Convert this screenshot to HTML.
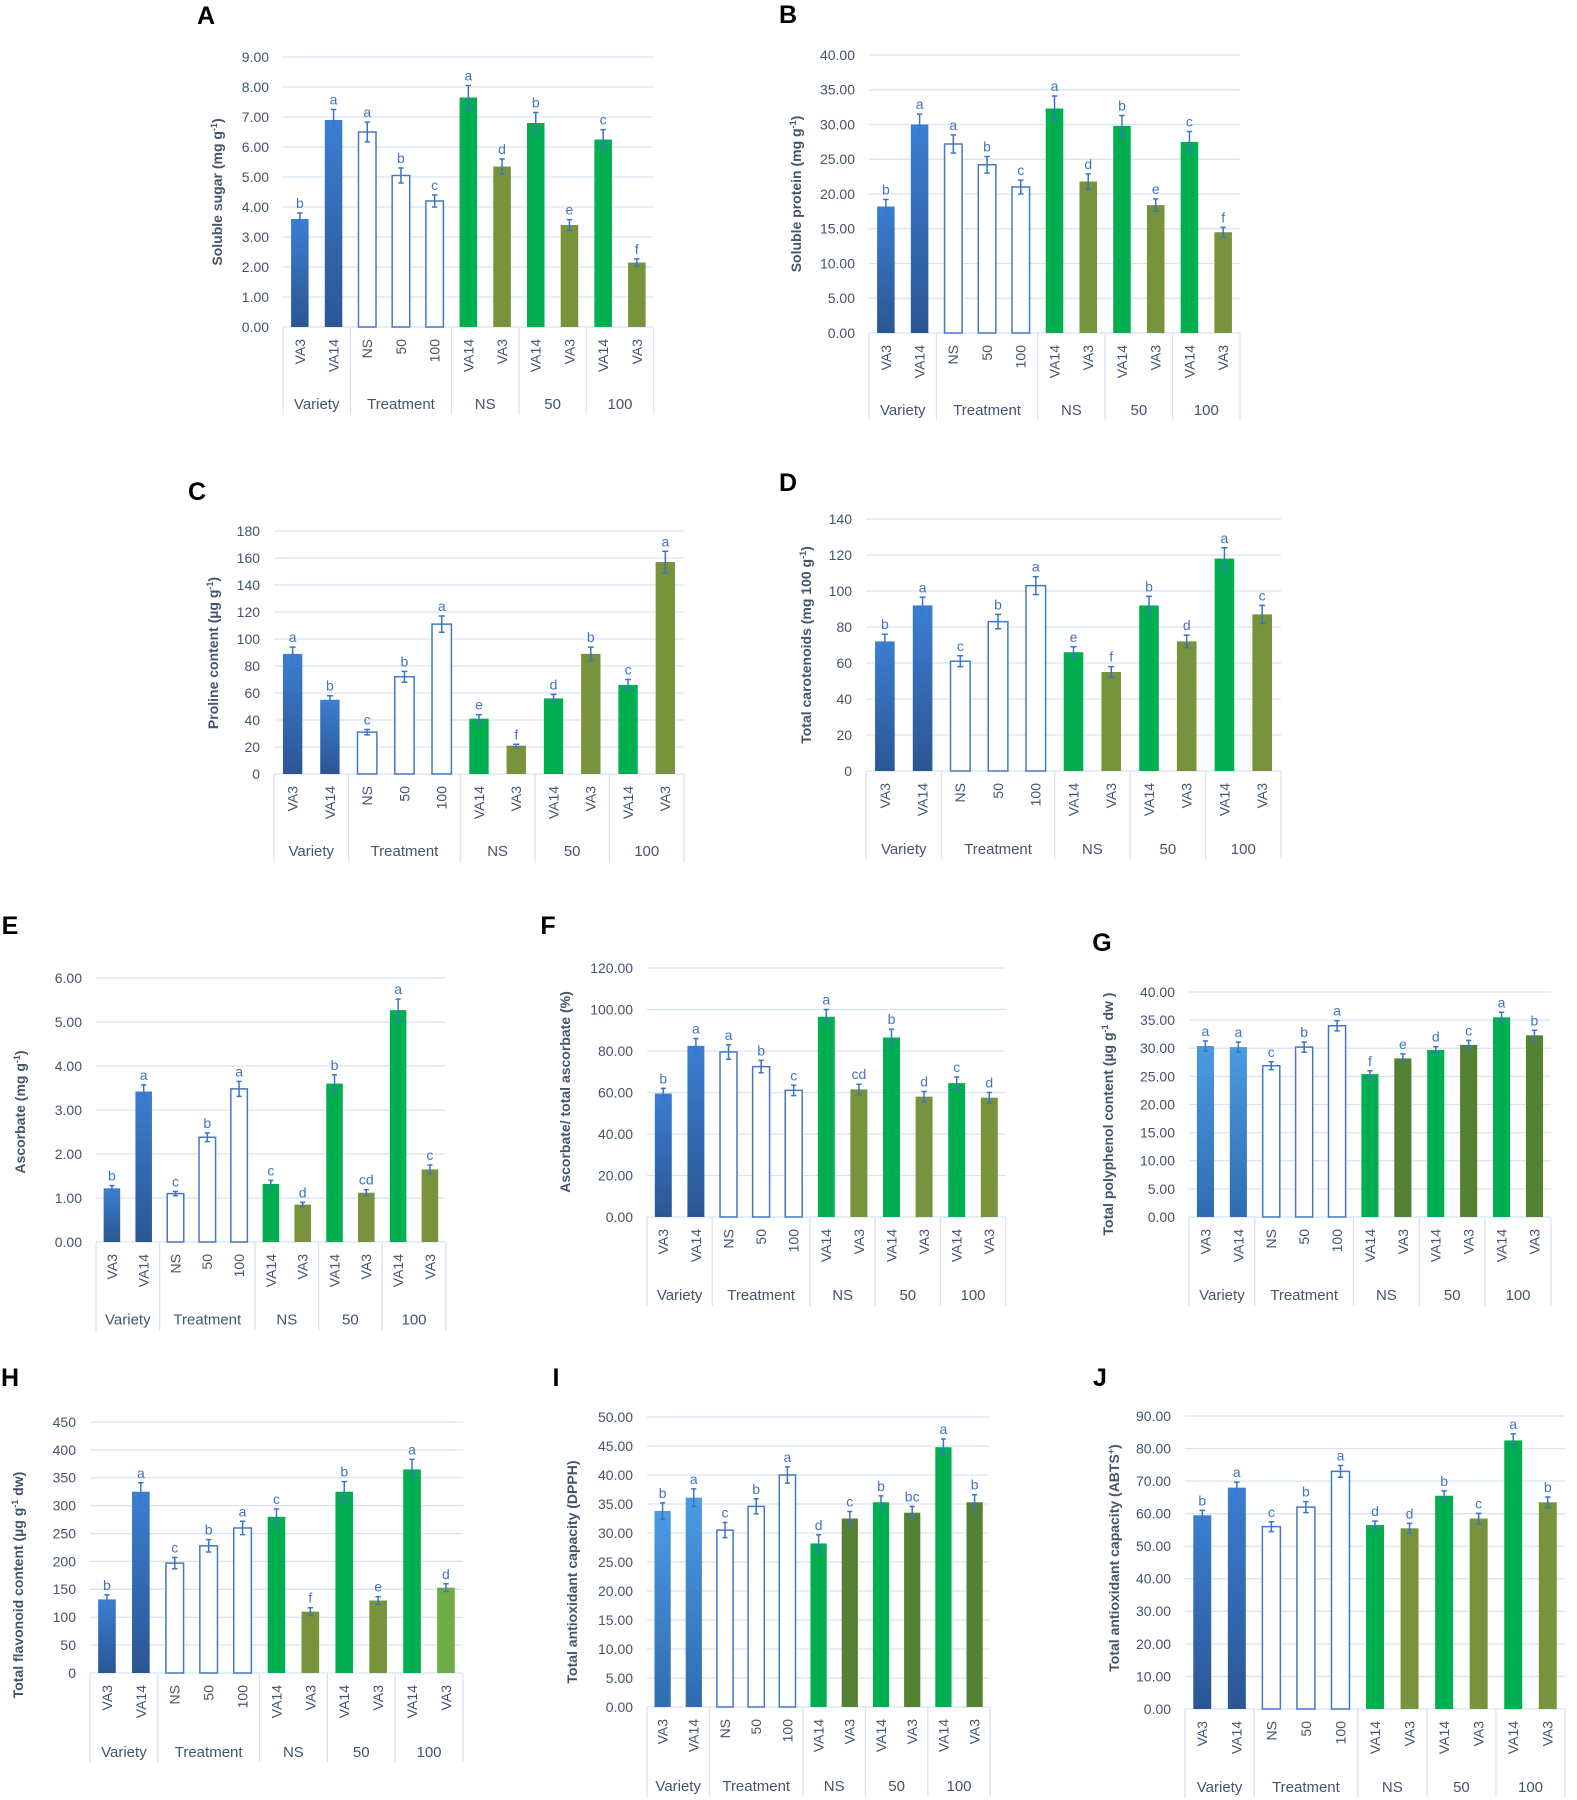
<!DOCTYPE html>
<html><head><meta charset="utf-8"><style>
body{margin:0;background:#fff}
svg{display:block}
.s rect,.s path{vector-effect:non-scaling-stroke}
.g{stroke:#d9e3f2;stroke-width:1.3;fill:none}
.w{fill:#fff;stroke:#4478c4;stroke-width:1.5}
.e{stroke:#3d74c6;stroke-width:1.5;fill:none}
text{font-family:"Liberation Sans",sans-serif;fill:#44546a}
.t{font-size:14px;text-anchor:end}
.l{font-size:14px;text-anchor:middle;fill:#4472c4}
.c{font-size:14px;text-anchor:end}
.gl{font-size:15px;text-anchor:middle}
.yl{font-size:14px;font-weight:bold;text-anchor:middle}
.T{font-size:25px;font-weight:bold;fill:#000;text-anchor:middle}
</style></head><body>
<svg width="1577" height="1800" viewBox="0 0 1577 1800" xmlns="http://www.w3.org/2000/svg">
<defs>
<linearGradient id="gv" x1="0" y1="0" x2="0" y2="1"><stop offset="0" stop-color="#2b5694"/><stop offset="1" stop-color="#3b7ed2"/></linearGradient>
<linearGradient id="gb" x1="0" y1="0" x2="0" y2="1"><stop offset="0" stop-color="#2f6cb0"/><stop offset="1" stop-color="#4a9be3"/></linearGradient>
</defs>
<rect width="1577" height="1800" fill="#fff"/>

<!-- A -->
<text class="T" x="206" y="15" dy=".35em">A</text>
<text class="yl" transform="translate(217,192) rotate(-90)" dy=".35em">Soluble sugar (mg g<tspan font-size="9" dy="-5">-1</tspan><tspan dy="5">)</tspan></text>
<g transform="translate(283,327)"><g class="s" transform="scale(33.7,-30)">
<path class="g" d="M0 0H11M0 1H11M0 2H11M0 3H11M0 4H11M0 5H11M0 6H11M0 7H11M0 8H11M0 9H11"/>
<path class="g" d="M0 0V-2.93M2 0V-2.93M5 0V-2.93M7 0V-2.93M9 0V-2.93M11 0V-2.93"/>
<rect x=".24" width=".52" height="3.6" fill="url(#gv)"/><rect x="1.24" width=".52" height="6.9" fill="url(#gv)"/>
<rect class="w" x="2.24" width=".52" height="6.5"/><rect class="w" x="3.24" width=".52" height="5.05"/><rect class="w" x="4.24" width=".52" height="4.2"/>
<rect x="5.24" width=".52" height="7.65" fill="#00b050"/><rect x="6.24" width=".52" height="5.35" fill="#77933c"/>
<rect x="7.24" width=".52" height="6.8" fill="#00b050"/><rect x="8.24" width=".52" height="3.4" fill="#77933c"/>
<rect x="9.24" width=".52" height="6.25" fill="#00b050"/><rect x="10.24" width=".52" height="2.15" fill="#77933c"/>
<path class="e" d="M.5 3.4V3.8M.42 3.8h.16M.42 3.4h.16M1.5 6.55V7.25M1.42 7.25h.16M1.42 6.55h.16M2.5 6.17V6.83M2.42 6.83h.16M2.42 6.17h.16M3.5 4.8V5.3M3.42 5.3h.16M3.42 4.8h.16M4.5 4V4.4M4.42 4.4h.16M4.42 4h.16M5.5 7.25V8.05M5.42 8.05h.16M5.42 7.25h.16M6.5 5.1V5.6M6.42 5.6h.16M6.42 5.1h.16M7.5 6.45V7.15M7.42 7.15h.16M7.42 6.45h.16M8.5 3.22V3.58M8.42 3.58h.16M8.42 3.22h.16M9.5 5.92V6.58M9.42 6.58h.16M9.42 5.92h.16M10.5 2.03V2.27M10.42 2.27h.16M10.42 2.03h.16"/>
<text class="l" transform="translate(.5,3.8) scale(.02967,-.03333)" y="-5">b</text>
<text class="l" transform="translate(1.5,7.25) scale(.02967,-.03333)" y="-5">a</text>
<text class="l" transform="translate(2.5,6.83) scale(.02967,-.03333)" y="-5">a</text>
<text class="l" transform="translate(3.5,5.3) scale(.02967,-.03333)" y="-5">b</text>
<text class="l" transform="translate(4.5,4.4) scale(.02967,-.03333)" y="-5">c</text>
<text class="l" transform="translate(5.5,8.05) scale(.02967,-.03333)" y="-5">a</text>
<text class="l" transform="translate(6.5,5.6) scale(.02967,-.03333)" y="-5">d</text>
<text class="l" transform="translate(7.5,7.15) scale(.02967,-.03333)" y="-5">b</text>
<text class="l" transform="translate(8.5,3.58) scale(.02967,-.03333)" y="-5">e</text>
<text class="l" transform="translate(9.5,6.58) scale(.02967,-.03333)" y="-5">c</text>
<text class="l" transform="translate(10.5,2.27) scale(.02967,-.03333)" y="-5">f</text>
<text class="t" transform="translate(0,0) scale(.02967,-.03333)" x="-14" dy=".35em">0.00</text>
<text class="t" transform="translate(0,1) scale(.02967,-.03333)" x="-14" dy=".35em">1.00</text>
<text class="t" transform="translate(0,2) scale(.02967,-.03333)" x="-14" dy=".35em">2.00</text>
<text class="t" transform="translate(0,3) scale(.02967,-.03333)" x="-14" dy=".35em">3.00</text>
<text class="t" transform="translate(0,4) scale(.02967,-.03333)" x="-14" dy=".35em">4.00</text>
<text class="t" transform="translate(0,5) scale(.02967,-.03333)" x="-14" dy=".35em">5.00</text>
<text class="t" transform="translate(0,6) scale(.02967,-.03333)" x="-14" dy=".35em">6.00</text>
<text class="t" transform="translate(0,7) scale(.02967,-.03333)" x="-14" dy=".35em">7.00</text>
<text class="t" transform="translate(0,8) scale(.02967,-.03333)" x="-14" dy=".35em">8.00</text>
<text class="t" transform="translate(0,9) scale(.02967,-.03333)" x="-14" dy=".35em">9.00</text>
<text class="c" transform="translate(.5,0) scale(.02967,-.03333) translate(0,12) rotate(-90)" dy=".35em">VA3</text>
<text class="c" transform="translate(1.5,0) scale(.02967,-.03333) translate(0,12) rotate(-90)" dy=".35em">VA14</text>
<text class="c" transform="translate(2.5,0) scale(.02967,-.03333) translate(0,12) rotate(-90)" dy=".35em">NS</text>
<text class="c" transform="translate(3.5,0) scale(.02967,-.03333) translate(0,12) rotate(-90)" dy=".35em">50</text>
<text class="c" transform="translate(4.5,0) scale(.02967,-.03333) translate(0,12) rotate(-90)" dy=".35em">100</text>
<text class="c" transform="translate(5.5,0) scale(.02967,-.03333) translate(0,12) rotate(-90)" dy=".35em">VA14</text>
<text class="c" transform="translate(6.5,0) scale(.02967,-.03333) translate(0,12) rotate(-90)" dy=".35em">VA3</text>
<text class="c" transform="translate(7.5,0) scale(.02967,-.03333) translate(0,12) rotate(-90)" dy=".35em">VA14</text>
<text class="c" transform="translate(8.5,0) scale(.02967,-.03333) translate(0,12) rotate(-90)" dy=".35em">VA3</text>
<text class="c" transform="translate(9.5,0) scale(.02967,-.03333) translate(0,12) rotate(-90)" dy=".35em">VA14</text>
<text class="c" transform="translate(10.5,0) scale(.02967,-.03333) translate(0,12) rotate(-90)" dy=".35em">VA3</text>
<text class="gl" transform="translate(1,0) scale(.02967,-.03333)" y="77" dy=".35em">Variety</text>
<text class="gl" transform="translate(3.5,0) scale(.02967,-.03333)" y="77" dy=".35em">Treatment</text>
<text class="gl" transform="translate(6,0) scale(.02967,-.03333)" y="77" dy=".35em">NS</text>
<text class="gl" transform="translate(8,0) scale(.02967,-.03333)" y="77" dy=".35em">50</text>
<text class="gl" transform="translate(10,0) scale(.02967,-.03333)" y="77" dy=".35em">100</text>
</g></g>

<!-- B -->
<text class="T" x="788" y="14" dy=".35em">B</text>
<text class="yl" transform="translate(796,194) rotate(-90)" dy=".35em">Soluble protein (mg g<tspan font-size="9" dy="-5">-1</tspan><tspan dy="5">)</tspan></text>
<g transform="translate(869,333)"><g class="s" transform="scale(33.73,-6.95)">
<path class="g" d="M0 0H11M0 5H11M0 10H11M0 15H11M0 20H11M0 25H11M0 30H11M0 35H11M0 40H11"/>
<path class="g" d="M0 0V-12.5M2 0V-12.5M5 0V-12.5M7 0V-12.5M9 0V-12.5M11 0V-12.5"/>
<rect x=".24" width=".52" height="18.2" fill="url(#gv)"/><rect x="1.24" width=".52" height="30" fill="url(#gv)"/>
<rect class="w" x="2.24" width=".52" height="27.2"/><rect class="w" x="3.24" width=".52" height="24.2"/><rect class="w" x="4.24" width=".52" height="21"/>
<rect x="5.24" width=".52" height="32.3" fill="#00b050"/><rect x="6.24" width=".52" height="21.8" fill="#77933c"/>
<rect x="7.24" width=".52" height="29.8" fill="#00b050"/><rect x="8.24" width=".52" height="18.4" fill="#77933c"/>
<rect x="9.24" width=".52" height="27.5" fill="#00b050"/><rect x="10.24" width=".52" height="14.5" fill="#77933c"/>
<path class="e" d="M.5 17.2V19.2M.42 19.2h.16M.42 17.2h.16M1.5 28.5V31.5M1.42 31.5h.16M1.42 28.5h.16M2.5 25.9V28.5M2.42 28.5h.16M2.42 25.9h.16M3.5 23V25.4M3.42 25.4h.16M3.42 23h.16M4.5 20V22M4.42 22h.16M4.42 20h.16M5.5 30.5V34.1M5.42 34.1h.16M5.42 30.5h.16M6.5 20.7V22.9M6.42 22.9h.16M6.42 20.7h.16M7.5 28.3V31.3M7.42 31.3h.16M7.42 28.3h.16M8.5 17.5V19.3M8.42 19.3h.16M8.42 17.5h.16M9.5 26V29M9.42 29h.16M9.42 26h.16M10.5 13.8V15.2M10.42 15.2h.16M10.42 13.8h.16"/>
<text class="l" transform="translate(.5,19.2) scale(.02965,-.14388)" y="-5">b</text>
<text class="l" transform="translate(1.5,31.5) scale(.02965,-.14388)" y="-5">a</text>
<text class="l" transform="translate(2.5,28.5) scale(.02965,-.14388)" y="-5">a</text>
<text class="l" transform="translate(3.5,25.4) scale(.02965,-.14388)" y="-5">b</text>
<text class="l" transform="translate(4.5,22) scale(.02965,-.14388)" y="-5">c</text>
<text class="l" transform="translate(5.5,34.1) scale(.02965,-.14388)" y="-5">a</text>
<text class="l" transform="translate(6.5,22.9) scale(.02965,-.14388)" y="-5">d</text>
<text class="l" transform="translate(7.5,31.3) scale(.02965,-.14388)" y="-5">b</text>
<text class="l" transform="translate(8.5,19.3) scale(.02965,-.14388)" y="-5">e</text>
<text class="l" transform="translate(9.5,29) scale(.02965,-.14388)" y="-5">c</text>
<text class="l" transform="translate(10.5,15.2) scale(.02965,-.14388)" y="-5">f</text>
<text class="t" transform="translate(0,0) scale(.02965,-.14388)" x="-14" dy=".35em">0.00</text>
<text class="t" transform="translate(0,5) scale(.02965,-.14388)" x="-14" dy=".35em">5.00</text>
<text class="t" transform="translate(0,10) scale(.02965,-.14388)" x="-14" dy=".35em">10.00</text>
<text class="t" transform="translate(0,15) scale(.02965,-.14388)" x="-14" dy=".35em">15.00</text>
<text class="t" transform="translate(0,20) scale(.02965,-.14388)" x="-14" dy=".35em">20.00</text>
<text class="t" transform="translate(0,25) scale(.02965,-.14388)" x="-14" dy=".35em">25.00</text>
<text class="t" transform="translate(0,30) scale(.02965,-.14388)" x="-14" dy=".35em">30.00</text>
<text class="t" transform="translate(0,35) scale(.02965,-.14388)" x="-14" dy=".35em">35.00</text>
<text class="t" transform="translate(0,40) scale(.02965,-.14388)" x="-14" dy=".35em">40.00</text>
<text class="c" transform="translate(.5,0) scale(.02965,-.14388) translate(0,12) rotate(-90)" dy=".35em">VA3</text>
<text class="c" transform="translate(1.5,0) scale(.02965,-.14388) translate(0,12) rotate(-90)" dy=".35em">VA14</text>
<text class="c" transform="translate(2.5,0) scale(.02965,-.14388) translate(0,12) rotate(-90)" dy=".35em">NS</text>
<text class="c" transform="translate(3.5,0) scale(.02965,-.14388) translate(0,12) rotate(-90)" dy=".35em">50</text>
<text class="c" transform="translate(4.5,0) scale(.02965,-.14388) translate(0,12) rotate(-90)" dy=".35em">100</text>
<text class="c" transform="translate(5.5,0) scale(.02965,-.14388) translate(0,12) rotate(-90)" dy=".35em">VA14</text>
<text class="c" transform="translate(6.5,0) scale(.02965,-.14388) translate(0,12) rotate(-90)" dy=".35em">VA3</text>
<text class="c" transform="translate(7.5,0) scale(.02965,-.14388) translate(0,12) rotate(-90)" dy=".35em">VA14</text>
<text class="c" transform="translate(8.5,0) scale(.02965,-.14388) translate(0,12) rotate(-90)" dy=".35em">VA3</text>
<text class="c" transform="translate(9.5,0) scale(.02965,-.14388) translate(0,12) rotate(-90)" dy=".35em">VA14</text>
<text class="c" transform="translate(10.5,0) scale(.02965,-.14388) translate(0,12) rotate(-90)" dy=".35em">VA3</text>
<text class="gl" transform="translate(1,0) scale(.02965,-.14388)" y="77" dy=".35em">Variety</text>
<text class="gl" transform="translate(3.5,0) scale(.02965,-.14388)" y="77" dy=".35em">Treatment</text>
<text class="gl" transform="translate(6,0) scale(.02965,-.14388)" y="77" dy=".35em">NS</text>
<text class="gl" transform="translate(8,0) scale(.02965,-.14388)" y="77" dy=".35em">50</text>
<text class="gl" transform="translate(10,0) scale(.02965,-.14388)" y="77" dy=".35em">100</text>
</g></g>

<!-- C -->
<text class="T" x="197" y="491" dy=".35em">C</text>
<text class="yl" transform="translate(213,653) rotate(-90)" dy=".35em">Proline content (µg g<tspan font-size="9" dy="-5">-1</tspan><tspan dy="5">)</tspan></text>
<g transform="translate(274,774)"><g class="s" transform="scale(37.27,-1.35)">
<path class="g" d="M0 0H11M0 20H11M0 40H11M0 60H11M0 80H11M0 100H11M0 120H11M0 140H11M0 160H11M0 180H11"/>
<path class="g" d="M0 0V-65.9M2 0V-65.9M5 0V-65.9M7 0V-65.9M9 0V-65.9M11 0V-65.9"/>
<rect x=".24" width=".52" height="89" fill="url(#gv)"/><rect x="1.24" width=".52" height="55" fill="url(#gv)"/>
<rect class="w" x="2.24" width=".52" height="31"/><rect class="w" x="3.24" width=".52" height="72"/><rect class="w" x="4.24" width=".52" height="111"/>
<rect x="5.24" width=".52" height="41" fill="#00b050"/><rect x="6.24" width=".52" height="21" fill="#77933c"/>
<rect x="7.24" width=".52" height="56" fill="#00b050"/><rect x="8.24" width=".52" height="89" fill="#77933c"/>
<rect x="9.24" width=".52" height="66" fill="#00b050"/><rect x="10.24" width=".52" height="157" fill="#77933c"/>
<path class="e" d="M.5 84V94M.42 94h.16M.42 84h.16M1.5 52V58M1.42 58h.16M1.42 52h.16M2.5 29V33M2.42 33h.16M2.42 29h.16M3.5 68V76M3.42 76h.16M3.42 68h.16M4.5 105V117M4.42 117h.16M4.42 105h.16M5.5 38V44M5.42 44h.16M5.42 38h.16M6.5 20V22M6.42 22h.16M6.42 20h.16M7.5 53V59M7.42 59h.16M7.42 53h.16M8.5 84V94M8.42 94h.16M8.42 84h.16M9.5 62V70M9.42 70h.16M9.42 62h.16M10.5 149V165M10.42 165h.16M10.42 149h.16"/>
<text class="l" transform="translate(.5,94) scale(.02683,-.74074)" y="-5">a</text>
<text class="l" transform="translate(1.5,58) scale(.02683,-.74074)" y="-5">b</text>
<text class="l" transform="translate(2.5,33) scale(.02683,-.74074)" y="-5">c</text>
<text class="l" transform="translate(3.5,76) scale(.02683,-.74074)" y="-5">b</text>
<text class="l" transform="translate(4.5,117) scale(.02683,-.74074)" y="-5">a</text>
<text class="l" transform="translate(5.5,44) scale(.02683,-.74074)" y="-5">e</text>
<text class="l" transform="translate(6.5,22) scale(.02683,-.74074)" y="-5">f</text>
<text class="l" transform="translate(7.5,59) scale(.02683,-.74074)" y="-5">d</text>
<text class="l" transform="translate(8.5,94) scale(.02683,-.74074)" y="-5">b</text>
<text class="l" transform="translate(9.5,70) scale(.02683,-.74074)" y="-5">c</text>
<text class="l" transform="translate(10.5,165) scale(.02683,-.74074)" y="-5">a</text>
<text class="t" transform="translate(0,0) scale(.02683,-.74074)" x="-14" dy=".35em">0</text>
<text class="t" transform="translate(0,20) scale(.02683,-.74074)" x="-14" dy=".35em">20</text>
<text class="t" transform="translate(0,40) scale(.02683,-.74074)" x="-14" dy=".35em">40</text>
<text class="t" transform="translate(0,60) scale(.02683,-.74074)" x="-14" dy=".35em">60</text>
<text class="t" transform="translate(0,80) scale(.02683,-.74074)" x="-14" dy=".35em">80</text>
<text class="t" transform="translate(0,100) scale(.02683,-.74074)" x="-14" dy=".35em">100</text>
<text class="t" transform="translate(0,120) scale(.02683,-.74074)" x="-14" dy=".35em">120</text>
<text class="t" transform="translate(0,140) scale(.02683,-.74074)" x="-14" dy=".35em">140</text>
<text class="t" transform="translate(0,160) scale(.02683,-.74074)" x="-14" dy=".35em">160</text>
<text class="t" transform="translate(0,180) scale(.02683,-.74074)" x="-14" dy=".35em">180</text>
<text class="c" transform="translate(.5,0) scale(.02683,-.74074) translate(0,12) rotate(-90)" dy=".35em">VA3</text>
<text class="c" transform="translate(1.5,0) scale(.02683,-.74074) translate(0,12) rotate(-90)" dy=".35em">VA14</text>
<text class="c" transform="translate(2.5,0) scale(.02683,-.74074) translate(0,12) rotate(-90)" dy=".35em">NS</text>
<text class="c" transform="translate(3.5,0) scale(.02683,-.74074) translate(0,12) rotate(-90)" dy=".35em">50</text>
<text class="c" transform="translate(4.5,0) scale(.02683,-.74074) translate(0,12) rotate(-90)" dy=".35em">100</text>
<text class="c" transform="translate(5.5,0) scale(.02683,-.74074) translate(0,12) rotate(-90)" dy=".35em">VA14</text>
<text class="c" transform="translate(6.5,0) scale(.02683,-.74074) translate(0,12) rotate(-90)" dy=".35em">VA3</text>
<text class="c" transform="translate(7.5,0) scale(.02683,-.74074) translate(0,12) rotate(-90)" dy=".35em">VA14</text>
<text class="c" transform="translate(8.5,0) scale(.02683,-.74074) translate(0,12) rotate(-90)" dy=".35em">VA3</text>
<text class="c" transform="translate(9.5,0) scale(.02683,-.74074) translate(0,12) rotate(-90)" dy=".35em">VA14</text>
<text class="c" transform="translate(10.5,0) scale(.02683,-.74074) translate(0,12) rotate(-90)" dy=".35em">VA3</text>
<text class="gl" transform="translate(1,0) scale(.02683,-.74074)" y="77" dy=".35em">Variety</text>
<text class="gl" transform="translate(3.5,0) scale(.02683,-.74074)" y="77" dy=".35em">Treatment</text>
<text class="gl" transform="translate(6,0) scale(.02683,-.74074)" y="77" dy=".35em">NS</text>
<text class="gl" transform="translate(8,0) scale(.02683,-.74074)" y="77" dy=".35em">50</text>
<text class="gl" transform="translate(10,0) scale(.02683,-.74074)" y="77" dy=".35em">100</text>
</g></g>

<!-- D -->
<text class="T" x="788" y="482" dy=".35em">D</text>
<text class="yl" transform="translate(806,645) rotate(-90)" dy=".35em">Total carotenoids (mg 100 g<tspan font-size="9" dy="-5">-1</tspan><tspan dy="5">)</tspan></text>
<g transform="translate(866,771)"><g class="s" transform="scale(37.73,-1.8)">
<path class="g" d="M0 0H11M0 20H11M0 40H11M0 60H11M0 80H11M0 100H11M0 120H11M0 140H11"/>
<path class="g" d="M0 0V-49M2 0V-49M5 0V-49M7 0V-49M9 0V-49M11 0V-49"/>
<rect x=".24" width=".52" height="72" fill="url(#gv)"/><rect x="1.24" width=".52" height="92" fill="url(#gv)"/>
<rect class="w" x="2.24" width=".52" height="61"/><rect class="w" x="3.24" width=".52" height="83"/><rect class="w" x="4.24" width=".52" height="103"/>
<rect x="5.24" width=".52" height="66" fill="#00b050"/><rect x="6.24" width=".52" height="55" fill="#77933c"/>
<rect x="7.24" width=".52" height="92" fill="#00b050"/><rect x="8.24" width=".52" height="72" fill="#77933c"/>
<rect x="9.24" width=".52" height="118" fill="#00b050"/><rect x="10.24" width=".52" height="87" fill="#77933c"/>
<path class="e" d="M.5 68V76M.42 76h.16M.42 68h.16M1.5 87.5V96.5M1.42 96.5h.16M1.42 87.5h.16M2.5 58V64M2.42 64h.16M2.42 58h.16M3.5 79V87M3.42 87h.16M3.42 79h.16M4.5 98V108M4.42 108h.16M4.42 98h.16M5.5 63V69M5.42 69h.16M5.42 63h.16M6.5 52V58M6.42 58h.16M6.42 52h.16M7.5 87V97M7.42 97h.16M7.42 87h.16M8.5 68.5V75.5M8.42 75.5h.16M8.42 68.5h.16M9.5 112V124M9.42 124h.16M9.42 112h.16M10.5 82V92M10.42 92h.16M10.42 82h.16"/>
<text class="l" transform="translate(.5,76) scale(.0265,-.55556)" y="-5">b</text>
<text class="l" transform="translate(1.5,96.5) scale(.0265,-.55556)" y="-5">a</text>
<text class="l" transform="translate(2.5,64) scale(.0265,-.55556)" y="-5">c</text>
<text class="l" transform="translate(3.5,87) scale(.0265,-.55556)" y="-5">b</text>
<text class="l" transform="translate(4.5,108) scale(.0265,-.55556)" y="-5">a</text>
<text class="l" transform="translate(5.5,69) scale(.0265,-.55556)" y="-5">e</text>
<text class="l" transform="translate(6.5,58) scale(.0265,-.55556)" y="-5">f</text>
<text class="l" transform="translate(7.5,97) scale(.0265,-.55556)" y="-5">b</text>
<text class="l" transform="translate(8.5,75.5) scale(.0265,-.55556)" y="-5">d</text>
<text class="l" transform="translate(9.5,124) scale(.0265,-.55556)" y="-5">a</text>
<text class="l" transform="translate(10.5,92) scale(.0265,-.55556)" y="-5">c</text>
<text class="t" transform="translate(0,0) scale(.0265,-.55556)" x="-14" dy=".35em">0</text>
<text class="t" transform="translate(0,20) scale(.0265,-.55556)" x="-14" dy=".35em">20</text>
<text class="t" transform="translate(0,40) scale(.0265,-.55556)" x="-14" dy=".35em">40</text>
<text class="t" transform="translate(0,60) scale(.0265,-.55556)" x="-14" dy=".35em">60</text>
<text class="t" transform="translate(0,80) scale(.0265,-.55556)" x="-14" dy=".35em">80</text>
<text class="t" transform="translate(0,100) scale(.0265,-.55556)" x="-14" dy=".35em">100</text>
<text class="t" transform="translate(0,120) scale(.0265,-.55556)" x="-14" dy=".35em">120</text>
<text class="t" transform="translate(0,140) scale(.0265,-.55556)" x="-14" dy=".35em">140</text>
<text class="c" transform="translate(.5,0) scale(.0265,-.55556) translate(0,12) rotate(-90)" dy=".35em">VA3</text>
<text class="c" transform="translate(1.5,0) scale(.0265,-.55556) translate(0,12) rotate(-90)" dy=".35em">VA14</text>
<text class="c" transform="translate(2.5,0) scale(.0265,-.55556) translate(0,12) rotate(-90)" dy=".35em">NS</text>
<text class="c" transform="translate(3.5,0) scale(.0265,-.55556) translate(0,12) rotate(-90)" dy=".35em">50</text>
<text class="c" transform="translate(4.5,0) scale(.0265,-.55556) translate(0,12) rotate(-90)" dy=".35em">100</text>
<text class="c" transform="translate(5.5,0) scale(.0265,-.55556) translate(0,12) rotate(-90)" dy=".35em">VA14</text>
<text class="c" transform="translate(6.5,0) scale(.0265,-.55556) translate(0,12) rotate(-90)" dy=".35em">VA3</text>
<text class="c" transform="translate(7.5,0) scale(.0265,-.55556) translate(0,12) rotate(-90)" dy=".35em">VA14</text>
<text class="c" transform="translate(8.5,0) scale(.0265,-.55556) translate(0,12) rotate(-90)" dy=".35em">VA3</text>
<text class="c" transform="translate(9.5,0) scale(.0265,-.55556) translate(0,12) rotate(-90)" dy=".35em">VA14</text>
<text class="c" transform="translate(10.5,0) scale(.0265,-.55556) translate(0,12) rotate(-90)" dy=".35em">VA3</text>
<text class="gl" transform="translate(1,0) scale(.0265,-.55556)" y="78" dy=".35em">Variety</text>
<text class="gl" transform="translate(3.5,0) scale(.0265,-.55556)" y="78" dy=".35em">Treatment</text>
<text class="gl" transform="translate(6,0) scale(.0265,-.55556)" y="78" dy=".35em">NS</text>
<text class="gl" transform="translate(8,0) scale(.0265,-.55556)" y="78" dy=".35em">50</text>
<text class="gl" transform="translate(10,0) scale(.0265,-.55556)" y="78" dy=".35em">100</text>
</g></g>

<!-- E -->
<text class="T" x="10" y="925" dy=".35em">E</text>
<text class="yl" transform="translate(20,1112) rotate(-90)" dy=".35em">Ascorbate (mg g<tspan font-size="9" dy="-5">-1</tspan><tspan dy="5">)</tspan></text>
<g transform="translate(96,1242)"><g class="s" transform="scale(31.8,-44)">
<path class="g" d="M0 0H11M0 1H11M0 2H11M0 3H11M0 4H11M0 5H11M0 6H11"/>
<path class="g" d="M0 0V-2.02M2 0V-2.02M5 0V-2.02M7 0V-2.02M9 0V-2.02M11 0V-2.02"/>
<rect x=".24" width=".52" height="1.22" fill="url(#gv)"/><rect x="1.24" width=".52" height="3.42" fill="url(#gv)"/>
<rect class="w" x="2.24" width=".52" height="1.1"/><rect class="w" x="3.24" width=".52" height="2.38"/><rect class="w" x="4.24" width=".52" height="3.48"/>
<rect x="5.24" width=".52" height="1.32" fill="#00b050"/><rect x="6.24" width=".52" height=".85" fill="#77933c"/>
<rect x="7.24" width=".52" height="3.6" fill="#00b050"/><rect x="8.24" width=".52" height="1.12" fill="#77933c"/>
<rect x="9.24" width=".52" height="5.27" fill="#00b050"/><rect x="10.24" width=".52" height="1.65" fill="#77933c"/>
<path class="e" d="M.5 1.16V1.28M.42 1.28h.16M.42 1.16h.16M1.5 3.27V3.57M1.42 3.57h.16M1.42 3.27h.16M2.5 1.05V1.15M2.42 1.15h.16M2.42 1.05h.16M3.5 2.28V2.48M3.42 2.48h.16M3.42 2.28h.16M4.5 3.31V3.65M4.42 3.65h.16M4.42 3.31h.16M5.5 1.24V1.4M5.42 1.4h.16M5.42 1.24h.16M6.5 .8V.9M6.42 .9h.16M6.42 .8h.16M7.5 3.4V3.8M7.42 3.8h.16M7.42 3.4h.16M8.5 1.05V1.19M8.42 1.19h.16M8.42 1.05h.16M9.5 5.02V5.52M9.42 5.52h.16M9.42 5.02h.16M10.5 1.55V1.75M10.42 1.75h.16M10.42 1.55h.16"/>
<text class="l" transform="translate(.5,1.28) scale(.03145,-.02273)" y="-5">b</text>
<text class="l" transform="translate(1.5,3.57) scale(.03145,-.02273)" y="-5">a</text>
<text class="l" transform="translate(2.5,1.15) scale(.03145,-.02273)" y="-5">c</text>
<text class="l" transform="translate(3.5,2.48) scale(.03145,-.02273)" y="-5">b</text>
<text class="l" transform="translate(4.5,3.65) scale(.03145,-.02273)" y="-5">a</text>
<text class="l" transform="translate(5.5,1.4) scale(.03145,-.02273)" y="-5">c</text>
<text class="l" transform="translate(6.5,.9) scale(.03145,-.02273)" y="-5">d</text>
<text class="l" transform="translate(7.5,3.8) scale(.03145,-.02273)" y="-5">b</text>
<text class="l" transform="translate(8.5,1.19) scale(.03145,-.02273)" y="-5">cd</text>
<text class="l" transform="translate(9.5,5.52) scale(.03145,-.02273)" y="-5">a</text>
<text class="l" transform="translate(10.5,1.75) scale(.03145,-.02273)" y="-5">c</text>
<text class="t" transform="translate(0,0) scale(.03145,-.02273)" x="-14" dy=".35em">0.00</text>
<text class="t" transform="translate(0,1) scale(.03145,-.02273)" x="-14" dy=".35em">1.00</text>
<text class="t" transform="translate(0,2) scale(.03145,-.02273)" x="-14" dy=".35em">2.00</text>
<text class="t" transform="translate(0,3) scale(.03145,-.02273)" x="-14" dy=".35em">3.00</text>
<text class="t" transform="translate(0,4) scale(.03145,-.02273)" x="-14" dy=".35em">4.00</text>
<text class="t" transform="translate(0,5) scale(.03145,-.02273)" x="-14" dy=".35em">5.00</text>
<text class="t" transform="translate(0,6) scale(.03145,-.02273)" x="-14" dy=".35em">6.00</text>
<text class="c" transform="translate(.5,0) scale(.03145,-.02273) translate(0,12) rotate(-90)" dy=".35em">VA3</text>
<text class="c" transform="translate(1.5,0) scale(.03145,-.02273) translate(0,12) rotate(-90)" dy=".35em">VA14</text>
<text class="c" transform="translate(2.5,0) scale(.03145,-.02273) translate(0,12) rotate(-90)" dy=".35em">NS</text>
<text class="c" transform="translate(3.5,0) scale(.03145,-.02273) translate(0,12) rotate(-90)" dy=".35em">50</text>
<text class="c" transform="translate(4.5,0) scale(.03145,-.02273) translate(0,12) rotate(-90)" dy=".35em">100</text>
<text class="c" transform="translate(5.5,0) scale(.03145,-.02273) translate(0,12) rotate(-90)" dy=".35em">VA14</text>
<text class="c" transform="translate(6.5,0) scale(.03145,-.02273) translate(0,12) rotate(-90)" dy=".35em">VA3</text>
<text class="c" transform="translate(7.5,0) scale(.03145,-.02273) translate(0,12) rotate(-90)" dy=".35em">VA14</text>
<text class="c" transform="translate(8.5,0) scale(.03145,-.02273) translate(0,12) rotate(-90)" dy=".35em">VA3</text>
<text class="c" transform="translate(9.5,0) scale(.03145,-.02273) translate(0,12) rotate(-90)" dy=".35em">VA14</text>
<text class="c" transform="translate(10.5,0) scale(.03145,-.02273) translate(0,12) rotate(-90)" dy=".35em">VA3</text>
<text class="gl" transform="translate(1,0) scale(.03145,-.02273)" y="77" dy=".35em">Variety</text>
<text class="gl" transform="translate(3.5,0) scale(.03145,-.02273)" y="77" dy=".35em">Treatment</text>
<text class="gl" transform="translate(6,0) scale(.03145,-.02273)" y="77" dy=".35em">NS</text>
<text class="gl" transform="translate(8,0) scale(.03145,-.02273)" y="77" dy=".35em">50</text>
<text class="gl" transform="translate(10,0) scale(.03145,-.02273)" y="77" dy=".35em">100</text>
</g></g>

<!-- F -->
<text class="T" x="548" y="925" dy=".35em">F</text>
<text class="yl" transform="translate(565,1092) rotate(-90)" dy=".35em">Ascorbate/ total ascorbate (%)</text>
<g transform="translate(647,1217)"><g class="s" transform="scale(32.6,-2.075)">
<path class="g" d="M0 0H11M0 20H11M0 40H11M0 60H11M0 80H11M0 100H11M0 120H11"/>
<path class="g" d="M0 0V-42.9M2 0V-42.9M5 0V-42.9M7 0V-42.9M9 0V-42.9M11 0V-42.9"/>
<rect x=".24" width=".52" height="59.5" fill="url(#gv)"/><rect x="1.24" width=".52" height="82.5" fill="url(#gv)"/>
<rect class="w" x="2.24" width=".52" height="79.5"/><rect class="w" x="3.24" width=".52" height="72.5"/><rect class="w" x="4.24" width=".52" height="61"/>
<rect x="5.24" width=".52" height="96.5" fill="#00b050"/><rect x="6.24" width=".52" height="61.5" fill="#77933c"/>
<rect x="7.24" width=".52" height="86.5" fill="#00b050"/><rect x="8.24" width=".52" height="58" fill="#77933c"/>
<rect x="9.24" width=".52" height="64.5" fill="#00b050"/><rect x="10.24" width=".52" height="57.5" fill="#77933c"/>
<path class="e" d="M.5 57V62M.42 62h.16M.42 57h.16M1.5 79V86M1.42 86h.16M1.42 79h.16M2.5 76V83M2.42 83h.16M2.42 76h.16M3.5 69.5V75.5M3.42 75.5h.16M3.42 69.5h.16M4.5 58.5V63.5M4.42 63.5h.16M4.42 58.5h.16M5.5 93V100M5.42 100h.16M5.42 93h.16M6.5 59V64M6.42 64h.16M6.42 59h.16M7.5 82.5V90.5M7.42 90.5h.16M7.42 82.5h.16M8.5 55.5V60.5M8.42 60.5h.16M8.42 55.5h.16M9.5 61.5V67.5M9.42 67.5h.16M9.42 61.5h.16M10.5 55V60M10.42 60h.16M10.42 55h.16"/>
<text class="l" transform="translate(.5,62) scale(.03067,-.48193)" y="-5">b</text>
<text class="l" transform="translate(1.5,86) scale(.03067,-.48193)" y="-5">a</text>
<text class="l" transform="translate(2.5,83) scale(.03067,-.48193)" y="-5">a</text>
<text class="l" transform="translate(3.5,75.5) scale(.03067,-.48193)" y="-5">b</text>
<text class="l" transform="translate(4.5,63.5) scale(.03067,-.48193)" y="-5">c</text>
<text class="l" transform="translate(5.5,100) scale(.03067,-.48193)" y="-5">a</text>
<text class="l" transform="translate(6.5,64) scale(.03067,-.48193)" y="-5">cd</text>
<text class="l" transform="translate(7.5,90.5) scale(.03067,-.48193)" y="-5">b</text>
<text class="l" transform="translate(8.5,60.5) scale(.03067,-.48193)" y="-5">d</text>
<text class="l" transform="translate(9.5,67.5) scale(.03067,-.48193)" y="-5">c</text>
<text class="l" transform="translate(10.5,60) scale(.03067,-.48193)" y="-5">d</text>
<text class="t" transform="translate(0,0) scale(.03067,-.48193)" x="-14" dy=".35em">0.00</text>
<text class="t" transform="translate(0,20) scale(.03067,-.48193)" x="-14" dy=".35em">20.00</text>
<text class="t" transform="translate(0,40) scale(.03067,-.48193)" x="-14" dy=".35em">40.00</text>
<text class="t" transform="translate(0,60) scale(.03067,-.48193)" x="-14" dy=".35em">60.00</text>
<text class="t" transform="translate(0,80) scale(.03067,-.48193)" x="-14" dy=".35em">80.00</text>
<text class="t" transform="translate(0,100) scale(.03067,-.48193)" x="-14" dy=".35em">100.00</text>
<text class="t" transform="translate(0,120) scale(.03067,-.48193)" x="-14" dy=".35em">120.00</text>
<text class="c" transform="translate(.5,0) scale(.03067,-.48193) translate(0,12) rotate(-90)" dy=".35em">VA3</text>
<text class="c" transform="translate(1.5,0) scale(.03067,-.48193) translate(0,12) rotate(-90)" dy=".35em">VA14</text>
<text class="c" transform="translate(2.5,0) scale(.03067,-.48193) translate(0,12) rotate(-90)" dy=".35em">NS</text>
<text class="c" transform="translate(3.5,0) scale(.03067,-.48193) translate(0,12) rotate(-90)" dy=".35em">50</text>
<text class="c" transform="translate(4.5,0) scale(.03067,-.48193) translate(0,12) rotate(-90)" dy=".35em">100</text>
<text class="c" transform="translate(5.5,0) scale(.03067,-.48193) translate(0,12) rotate(-90)" dy=".35em">VA14</text>
<text class="c" transform="translate(6.5,0) scale(.03067,-.48193) translate(0,12) rotate(-90)" dy=".35em">VA3</text>
<text class="c" transform="translate(7.5,0) scale(.03067,-.48193) translate(0,12) rotate(-90)" dy=".35em">VA14</text>
<text class="c" transform="translate(8.5,0) scale(.03067,-.48193) translate(0,12) rotate(-90)" dy=".35em">VA3</text>
<text class="c" transform="translate(9.5,0) scale(.03067,-.48193) translate(0,12) rotate(-90)" dy=".35em">VA14</text>
<text class="c" transform="translate(10.5,0) scale(.03067,-.48193) translate(0,12) rotate(-90)" dy=".35em">VA3</text>
<text class="gl" transform="translate(1,0) scale(.03067,-.48193)" y="78" dy=".35em">Variety</text>
<text class="gl" transform="translate(3.5,0) scale(.03067,-.48193)" y="78" dy=".35em">Treatment</text>
<text class="gl" transform="translate(6,0) scale(.03067,-.48193)" y="78" dy=".35em">NS</text>
<text class="gl" transform="translate(8,0) scale(.03067,-.48193)" y="78" dy=".35em">50</text>
<text class="gl" transform="translate(10,0) scale(.03067,-.48193)" y="78" dy=".35em">100</text>
</g></g>

<!-- G -->
<text class="T" x="1102" y="942" dy=".35em">G</text>
<text class="yl" transform="translate(1108,1114) rotate(-90)" dy=".35em">Total polyphenol content (µg g<tspan font-size="9" dy="-5">-1</tspan><tspan dy="5"> dw )</tspan></text>
<g transform="translate(1189,1217)"><g class="s" transform="scale(32.9,-5.625)">
<path class="g" d="M0 0H11M0 5H11M0 10H11M0 15H11M0 20H11M0 25H11M0 30H11M0 35H11M0 40H11"/>
<path class="g" d="M0 0V-15.8M2 0V-15.8M5 0V-15.8M7 0V-15.8M9 0V-15.8M11 0V-15.8"/>
<rect x=".24" width=".52" height="30.4" fill="url(#gb)"/><rect x="1.24" width=".52" height="30.2" fill="url(#gb)"/>
<rect class="w" x="2.24" width=".52" height="26.9"/><rect class="w" x="3.24" width=".52" height="30.2"/><rect class="w" x="4.24" width=".52" height="34"/>
<rect x="5.24" width=".52" height="25.4" fill="#00b050"/><rect x="6.24" width=".52" height="28.2" fill="#548235"/>
<rect x="7.24" width=".52" height="29.7" fill="#00b050"/><rect x="8.24" width=".52" height="30.6" fill="#548235"/>
<rect x="9.24" width=".52" height="35.5" fill="#00b050"/><rect x="10.24" width=".52" height="32.3" fill="#548235"/>
<path class="e" d="M.5 29.5V31.3M.42 31.3h.16M.42 29.5h.16M1.5 29.3V31.1M1.42 31.1h.16M1.42 29.3h.16M2.5 26.2V27.6M2.42 27.6h.16M2.42 26.2h.16M3.5 29.3V31.1M3.42 31.1h.16M3.42 29.3h.16M4.5 33.1V34.9M4.42 34.9h.16M4.42 33.1h.16M5.5 24.8V26M5.42 26h.16M5.42 24.8h.16M6.5 27.4V29M6.42 29h.16M6.42 27.4h.16M7.5 29.1V30.3M7.42 30.3h.16M7.42 29.1h.16M8.5 29.8V31.4M8.42 31.4h.16M8.42 29.8h.16M9.5 34.6V36.4M9.42 36.4h.16M9.42 34.6h.16M10.5 31.4V33.2M10.42 33.2h.16M10.42 31.4h.16"/>
<text class="l" transform="translate(.5,31.3) scale(.0304,-.17778)" y="-5">a</text>
<text class="l" transform="translate(1.5,31.1) scale(.0304,-.17778)" y="-5">a</text>
<text class="l" transform="translate(2.5,27.6) scale(.0304,-.17778)" y="-5">c</text>
<text class="l" transform="translate(3.5,31.1) scale(.0304,-.17778)" y="-5">b</text>
<text class="l" transform="translate(4.5,34.9) scale(.0304,-.17778)" y="-5">a</text>
<text class="l" transform="translate(5.5,26) scale(.0304,-.17778)" y="-5">f</text>
<text class="l" transform="translate(6.5,29) scale(.0304,-.17778)" y="-5">e</text>
<text class="l" transform="translate(7.5,30.3) scale(.0304,-.17778)" y="-5">d</text>
<text class="l" transform="translate(8.5,31.4) scale(.0304,-.17778)" y="-5">c</text>
<text class="l" transform="translate(9.5,36.4) scale(.0304,-.17778)" y="-5">a</text>
<text class="l" transform="translate(10.5,33.2) scale(.0304,-.17778)" y="-5">b</text>
<text class="t" transform="translate(0,0) scale(.0304,-.17778)" x="-14" dy=".35em">0.00</text>
<text class="t" transform="translate(0,5) scale(.0304,-.17778)" x="-14" dy=".35em">5.00</text>
<text class="t" transform="translate(0,10) scale(.0304,-.17778)" x="-14" dy=".35em">10.00</text>
<text class="t" transform="translate(0,15) scale(.0304,-.17778)" x="-14" dy=".35em">15.00</text>
<text class="t" transform="translate(0,20) scale(.0304,-.17778)" x="-14" dy=".35em">20.00</text>
<text class="t" transform="translate(0,25) scale(.0304,-.17778)" x="-14" dy=".35em">25.00</text>
<text class="t" transform="translate(0,30) scale(.0304,-.17778)" x="-14" dy=".35em">30.00</text>
<text class="t" transform="translate(0,35) scale(.0304,-.17778)" x="-14" dy=".35em">35.00</text>
<text class="t" transform="translate(0,40) scale(.0304,-.17778)" x="-14" dy=".35em">40.00</text>
<text class="c" transform="translate(.5,0) scale(.0304,-.17778) translate(0,12) rotate(-90)" dy=".35em">VA3</text>
<text class="c" transform="translate(1.5,0) scale(.0304,-.17778) translate(0,12) rotate(-90)" dy=".35em">VA14</text>
<text class="c" transform="translate(2.5,0) scale(.0304,-.17778) translate(0,12) rotate(-90)" dy=".35em">NS</text>
<text class="c" transform="translate(3.5,0) scale(.0304,-.17778) translate(0,12) rotate(-90)" dy=".35em">50</text>
<text class="c" transform="translate(4.5,0) scale(.0304,-.17778) translate(0,12) rotate(-90)" dy=".35em">100</text>
<text class="c" transform="translate(5.5,0) scale(.0304,-.17778) translate(0,12) rotate(-90)" dy=".35em">VA14</text>
<text class="c" transform="translate(6.5,0) scale(.0304,-.17778) translate(0,12) rotate(-90)" dy=".35em">VA3</text>
<text class="c" transform="translate(7.5,0) scale(.0304,-.17778) translate(0,12) rotate(-90)" dy=".35em">VA14</text>
<text class="c" transform="translate(8.5,0) scale(.0304,-.17778) translate(0,12) rotate(-90)" dy=".35em">VA3</text>
<text class="c" transform="translate(9.5,0) scale(.0304,-.17778) translate(0,12) rotate(-90)" dy=".35em">VA14</text>
<text class="c" transform="translate(10.5,0) scale(.0304,-.17778) translate(0,12) rotate(-90)" dy=".35em">VA3</text>
<text class="gl" transform="translate(1,0) scale(.0304,-.17778)" y="78" dy=".35em">Variety</text>
<text class="gl" transform="translate(3.5,0) scale(.0304,-.17778)" y="78" dy=".35em">Treatment</text>
<text class="gl" transform="translate(6,0) scale(.0304,-.17778)" y="78" dy=".35em">NS</text>
<text class="gl" transform="translate(8,0) scale(.0304,-.17778)" y="78" dy=".35em">50</text>
<text class="gl" transform="translate(10,0) scale(.0304,-.17778)" y="78" dy=".35em">100</text>
</g></g>

<!-- H -->
<text class="T" x="10" y="1377" dy=".35em">H</text>
<text class="yl" transform="translate(18,1585) rotate(-90)" dy=".35em">Total flavonoid content (µg g<tspan font-size="9" dy="-5">-1</tspan><tspan dy="5"> dw)</tspan></text>
<g transform="translate(90,1673)"><g class="s" transform="scale(33.9,-.5578)">
<path class="g" d="M0 0H11M0 50H11M0 100H11M0 150H11M0 200H11M0 250H11M0 300H11M0 350H11M0 400H11M0 450H11"/>
<path class="g" d="M0 0V-161M2 0V-161M5 0V-161M7 0V-161M9 0V-161M11 0V-161"/>
<rect x=".24" width=".52" height="132" fill="url(#gv)"/><rect x="1.24" width=".52" height="325" fill="url(#gv)"/>
<rect class="w" x="2.24" width=".52" height="197"/><rect class="w" x="3.24" width=".52" height="228"/><rect class="w" x="4.24" width=".52" height="260"/>
<rect x="5.24" width=".52" height="280" fill="#00b050"/><rect x="6.24" width=".52" height="110" fill="#77933c"/>
<rect x="7.24" width=".52" height="325" fill="#00b050"/><rect x="8.24" width=".52" height="130" fill="#77933c"/>
<rect x="9.24" width=".52" height="365" fill="#00b050"/><rect x="10.24" width=".52" height="153" fill="#70ad47"/>
<path class="e" d="M.5 124V140M.42 140h.16M.42 124h.16M1.5 309V341M1.42 341h.16M1.42 309h.16M2.5 187V207M2.42 207h.16M2.42 187h.16M3.5 217V239M3.42 239h.16M3.42 217h.16M4.5 248V272M4.42 272h.16M4.42 248h.16M5.5 266V294M5.42 294h.16M5.42 266h.16M6.5 103V117M6.42 117h.16M6.42 103h.16M7.5 307V343M7.42 343h.16M7.42 307h.16M8.5 123V137M8.42 137h.16M8.42 123h.16M9.5 347V383M9.42 383h.16M9.42 347h.16M10.5 146V160M10.42 160h.16M10.42 146h.16"/>
<text class="l" transform="translate(.5,140) scale(.0295,-1.79283)" y="-5">b</text>
<text class="l" transform="translate(1.5,341) scale(.0295,-1.79283)" y="-5">a</text>
<text class="l" transform="translate(2.5,207) scale(.0295,-1.79283)" y="-5">c</text>
<text class="l" transform="translate(3.5,239) scale(.0295,-1.79283)" y="-5">b</text>
<text class="l" transform="translate(4.5,272) scale(.0295,-1.79283)" y="-5">a</text>
<text class="l" transform="translate(5.5,294) scale(.0295,-1.79283)" y="-5">c</text>
<text class="l" transform="translate(6.5,117) scale(.0295,-1.79283)" y="-5">f</text>
<text class="l" transform="translate(7.5,343) scale(.0295,-1.79283)" y="-5">b</text>
<text class="l" transform="translate(8.5,137) scale(.0295,-1.79283)" y="-5">e</text>
<text class="l" transform="translate(9.5,383) scale(.0295,-1.79283)" y="-5">a</text>
<text class="l" transform="translate(10.5,160) scale(.0295,-1.79283)" y="-5">d</text>
<text class="t" transform="translate(0,0) scale(.0295,-1.79283)" x="-14" dy=".35em">0</text>
<text class="t" transform="translate(0,50) scale(.0295,-1.79283)" x="-14" dy=".35em">50</text>
<text class="t" transform="translate(0,100) scale(.0295,-1.79283)" x="-14" dy=".35em">100</text>
<text class="t" transform="translate(0,150) scale(.0295,-1.79283)" x="-14" dy=".35em">150</text>
<text class="t" transform="translate(0,200) scale(.0295,-1.79283)" x="-14" dy=".35em">200</text>
<text class="t" transform="translate(0,250) scale(.0295,-1.79283)" x="-14" dy=".35em">250</text>
<text class="t" transform="translate(0,300) scale(.0295,-1.79283)" x="-14" dy=".35em">300</text>
<text class="t" transform="translate(0,350) scale(.0295,-1.79283)" x="-14" dy=".35em">350</text>
<text class="t" transform="translate(0,400) scale(.0295,-1.79283)" x="-14" dy=".35em">400</text>
<text class="t" transform="translate(0,450) scale(.0295,-1.79283)" x="-14" dy=".35em">450</text>
<text class="c" transform="translate(.5,0) scale(.0295,-1.79283) translate(0,12) rotate(-90)" dy=".35em">VA3</text>
<text class="c" transform="translate(1.5,0) scale(.0295,-1.79283) translate(0,12) rotate(-90)" dy=".35em">VA14</text>
<text class="c" transform="translate(2.5,0) scale(.0295,-1.79283) translate(0,12) rotate(-90)" dy=".35em">NS</text>
<text class="c" transform="translate(3.5,0) scale(.0295,-1.79283) translate(0,12) rotate(-90)" dy=".35em">50</text>
<text class="c" transform="translate(4.5,0) scale(.0295,-1.79283) translate(0,12) rotate(-90)" dy=".35em">100</text>
<text class="c" transform="translate(5.5,0) scale(.0295,-1.79283) translate(0,12) rotate(-90)" dy=".35em">VA14</text>
<text class="c" transform="translate(6.5,0) scale(.0295,-1.79283) translate(0,12) rotate(-90)" dy=".35em">VA3</text>
<text class="c" transform="translate(7.5,0) scale(.0295,-1.79283) translate(0,12) rotate(-90)" dy=".35em">VA14</text>
<text class="c" transform="translate(8.5,0) scale(.0295,-1.79283) translate(0,12) rotate(-90)" dy=".35em">VA3</text>
<text class="c" transform="translate(9.5,0) scale(.0295,-1.79283) translate(0,12) rotate(-90)" dy=".35em">VA14</text>
<text class="c" transform="translate(10.5,0) scale(.0295,-1.79283) translate(0,12) rotate(-90)" dy=".35em">VA3</text>
<text class="gl" transform="translate(1,0) scale(.0295,-1.79283)" y="79" dy=".35em">Variety</text>
<text class="gl" transform="translate(3.5,0) scale(.0295,-1.79283)" y="79" dy=".35em">Treatment</text>
<text class="gl" transform="translate(6,0) scale(.0295,-1.79283)" y="79" dy=".35em">NS</text>
<text class="gl" transform="translate(8,0) scale(.0295,-1.79283)" y="79" dy=".35em">50</text>
<text class="gl" transform="translate(10,0) scale(.0295,-1.79283)" y="79" dy=".35em">100</text>
</g></g>

<!-- I -->
<text class="T" x="556" y="1377" dy=".35em">I</text>
<text class="yl" transform="translate(572,1572) rotate(-90)" dy=".35em">Total antioxidant capacity (DPPH)</text>
<g transform="translate(647,1707)"><g class="s" transform="scale(31.2,-5.8)">
<path class="g" d="M0 0H11M0 5H11M0 10H11M0 15H11M0 20H11M0 25H11M0 30H11M0 35H11M0 40H11M0 45H11M0 50H11"/>
<path class="g" d="M0 0V-15.5M2 0V-15.5M5 0V-15.5M7 0V-15.5M9 0V-15.5M11 0V-15.5"/>
<rect x=".24" width=".52" height="33.8" fill="url(#gb)"/><rect x="1.24" width=".52" height="36.1" fill="url(#gb)"/>
<rect class="w" x="2.24" width=".52" height="30.5"/><rect class="w" x="3.24" width=".52" height="34.6"/><rect class="w" x="4.24" width=".52" height="40"/>
<rect x="5.24" width=".52" height="28.2" fill="#00b050"/><rect x="6.24" width=".52" height="32.5" fill="#548235"/>
<rect x="7.24" width=".52" height="35.3" fill="#00b050"/><rect x="8.24" width=".52" height="33.5" fill="#548235"/>
<rect x="9.24" width=".52" height="44.8" fill="#00b050"/><rect x="10.24" width=".52" height="35.3" fill="#548235"/>
<path class="e" d="M.5 32.4V35.2M.42 35.2h.16M.42 32.4h.16M1.5 34.6V37.6M1.42 37.6h.16M1.42 34.6h.16M2.5 29.2V31.8M2.42 31.8h.16M2.42 29.2h.16M3.5 33.3V35.9M3.42 35.9h.16M3.42 33.3h.16M4.5 38.6V41.4M4.42 41.4h.16M4.42 38.6h.16M5.5 26.7V29.7M5.42 29.7h.16M5.42 26.7h.16M6.5 31.3V33.7M6.42 33.7h.16M6.42 31.3h.16M7.5 34.2V36.4M7.42 36.4h.16M7.42 34.2h.16M8.5 32.4V34.6M8.42 34.6h.16M8.42 32.4h.16M9.5 43.4V46.2M9.42 46.2h.16M9.42 43.4h.16M10.5 34V36.6M10.42 36.6h.16M10.42 34h.16"/>
<text class="l" transform="translate(.5,35.2) scale(.03205,-.17241)" y="-5">b</text>
<text class="l" transform="translate(1.5,37.6) scale(.03205,-.17241)" y="-5">a</text>
<text class="l" transform="translate(2.5,31.8) scale(.03205,-.17241)" y="-5">c</text>
<text class="l" transform="translate(3.5,35.9) scale(.03205,-.17241)" y="-5">b</text>
<text class="l" transform="translate(4.5,41.4) scale(.03205,-.17241)" y="-5">a</text>
<text class="l" transform="translate(5.5,29.7) scale(.03205,-.17241)" y="-5">d</text>
<text class="l" transform="translate(6.5,33.7) scale(.03205,-.17241)" y="-5">c</text>
<text class="l" transform="translate(7.5,36.4) scale(.03205,-.17241)" y="-5">b</text>
<text class="l" transform="translate(8.5,34.6) scale(.03205,-.17241)" y="-5">bc</text>
<text class="l" transform="translate(9.5,46.2) scale(.03205,-.17241)" y="-5">a</text>
<text class="l" transform="translate(10.5,36.6) scale(.03205,-.17241)" y="-5">b</text>
<text class="t" transform="translate(0,0) scale(.03205,-.17241)" x="-14" dy=".35em">0.00</text>
<text class="t" transform="translate(0,5) scale(.03205,-.17241)" x="-14" dy=".35em">5.00</text>
<text class="t" transform="translate(0,10) scale(.03205,-.17241)" x="-14" dy=".35em">10.00</text>
<text class="t" transform="translate(0,15) scale(.03205,-.17241)" x="-14" dy=".35em">15.00</text>
<text class="t" transform="translate(0,20) scale(.03205,-.17241)" x="-14" dy=".35em">20.00</text>
<text class="t" transform="translate(0,25) scale(.03205,-.17241)" x="-14" dy=".35em">25.00</text>
<text class="t" transform="translate(0,30) scale(.03205,-.17241)" x="-14" dy=".35em">30.00</text>
<text class="t" transform="translate(0,35) scale(.03205,-.17241)" x="-14" dy=".35em">35.00</text>
<text class="t" transform="translate(0,40) scale(.03205,-.17241)" x="-14" dy=".35em">40.00</text>
<text class="t" transform="translate(0,45) scale(.03205,-.17241)" x="-14" dy=".35em">45.00</text>
<text class="t" transform="translate(0,50) scale(.03205,-.17241)" x="-14" dy=".35em">50.00</text>
<text class="c" transform="translate(.5,0) scale(.03205,-.17241) translate(0,12) rotate(-90)" dy=".35em">VA3</text>
<text class="c" transform="translate(1.5,0) scale(.03205,-.17241) translate(0,12) rotate(-90)" dy=".35em">VA14</text>
<text class="c" transform="translate(2.5,0) scale(.03205,-.17241) translate(0,12) rotate(-90)" dy=".35em">NS</text>
<text class="c" transform="translate(3.5,0) scale(.03205,-.17241) translate(0,12) rotate(-90)" dy=".35em">50</text>
<text class="c" transform="translate(4.5,0) scale(.03205,-.17241) translate(0,12) rotate(-90)" dy=".35em">100</text>
<text class="c" transform="translate(5.5,0) scale(.03205,-.17241) translate(0,12) rotate(-90)" dy=".35em">VA14</text>
<text class="c" transform="translate(6.5,0) scale(.03205,-.17241) translate(0,12) rotate(-90)" dy=".35em">VA3</text>
<text class="c" transform="translate(7.5,0) scale(.03205,-.17241) translate(0,12) rotate(-90)" dy=".35em">VA14</text>
<text class="c" transform="translate(8.5,0) scale(.03205,-.17241) translate(0,12) rotate(-90)" dy=".35em">VA3</text>
<text class="c" transform="translate(9.5,0) scale(.03205,-.17241) translate(0,12) rotate(-90)" dy=".35em">VA14</text>
<text class="c" transform="translate(10.5,0) scale(.03205,-.17241) translate(0,12) rotate(-90)" dy=".35em">VA3</text>
<text class="gl" transform="translate(1,0) scale(.03205,-.17241)" y="79" dy=".35em">Variety</text>
<text class="gl" transform="translate(3.5,0) scale(.03205,-.17241)" y="79" dy=".35em">Treatment</text>
<text class="gl" transform="translate(6,0) scale(.03205,-.17241)" y="79" dy=".35em">NS</text>
<text class="gl" transform="translate(8,0) scale(.03205,-.17241)" y="79" dy=".35em">50</text>
<text class="gl" transform="translate(10,0) scale(.03205,-.17241)" y="79" dy=".35em">100</text>
</g></g>

<!-- J -->
<text class="T" x="1100" y="1377" dy=".35em">J</text>
<text class="yl" transform="translate(1114,1558) rotate(-90)" dy=".35em">Total antioxidant capacity (ABTS<tspan font-size="9" dy="-5">+</tspan><tspan dy="5">)</tspan></text>
<g transform="translate(1185,1709)"><g class="s" transform="scale(34.55,-3.2556)">
<path class="g" d="M0 0H11M0 10H11M0 20H11M0 30H11M0 40H11M0 50H11M0 60H11M0 70H11M0 80H11M0 90H11"/>
<path class="g" d="M0 0V-27.3M2 0V-27.3M5 0V-27.3M7 0V-27.3M9 0V-27.3M11 0V-27.3"/>
<rect x=".24" width=".52" height="59.5" fill="url(#gv)"/><rect x="1.24" width=".52" height="68" fill="url(#gv)"/>
<rect class="w" x="2.24" width=".52" height="56"/><rect class="w" x="3.24" width=".52" height="62"/><rect class="w" x="4.24" width=".52" height="73"/>
<rect x="5.24" width=".52" height="56.5" fill="#00b050"/><rect x="6.24" width=".52" height="55.5" fill="#77933c"/>
<rect x="7.24" width=".52" height="65.5" fill="#00b050"/><rect x="8.24" width=".52" height="58.5" fill="#77933c"/>
<rect x="9.24" width=".52" height="82.5" fill="#00b050"/><rect x="10.24" width=".52" height="63.5" fill="#77933c"/>
<path class="e" d="M.5 58V61M.42 61h.16M.42 58h.16M1.5 66.3V69.7M1.42 69.7h.16M1.42 66.3h.16M2.5 54.5V57.5M2.42 57.5h.16M2.42 54.5h.16M3.5 60.3V63.7M3.42 63.7h.16M3.42 60.3h.16M4.5 71.2V74.8M4.42 74.8h.16M4.42 71.2h.16M5.5 55.3V57.7M5.42 57.7h.16M5.42 55.3h.16M6.5 54V57M6.42 57h.16M6.42 54h.16M7.5 64V67M7.42 67h.16M7.42 64h.16M8.5 56.9V60.1M8.42 60.1h.16M8.42 56.9h.16M9.5 80.5V84.5M9.42 84.5h.16M9.42 80.5h.16M10.5 61.9V65.1M10.42 65.1h.16M10.42 61.9h.16"/>
<text class="l" transform="translate(.5,61) scale(.02894,-.30717)" y="-5">b</text>
<text class="l" transform="translate(1.5,69.7) scale(.02894,-.30717)" y="-5">a</text>
<text class="l" transform="translate(2.5,57.5) scale(.02894,-.30717)" y="-5">c</text>
<text class="l" transform="translate(3.5,63.7) scale(.02894,-.30717)" y="-5">b</text>
<text class="l" transform="translate(4.5,74.8) scale(.02894,-.30717)" y="-5">a</text>
<text class="l" transform="translate(5.5,57.7) scale(.02894,-.30717)" y="-5">d</text>
<text class="l" transform="translate(6.5,57) scale(.02894,-.30717)" y="-5">d</text>
<text class="l" transform="translate(7.5,67) scale(.02894,-.30717)" y="-5">b</text>
<text class="l" transform="translate(8.5,60.1) scale(.02894,-.30717)" y="-5">c</text>
<text class="l" transform="translate(9.5,84.5) scale(.02894,-.30717)" y="-5">a</text>
<text class="l" transform="translate(10.5,65.1) scale(.02894,-.30717)" y="-5">b</text>
<text class="t" transform="translate(0,0) scale(.02894,-.30717)" x="-14" dy=".35em">0.00</text>
<text class="t" transform="translate(0,10) scale(.02894,-.30717)" x="-14" dy=".35em">10.00</text>
<text class="t" transform="translate(0,20) scale(.02894,-.30717)" x="-14" dy=".35em">20.00</text>
<text class="t" transform="translate(0,30) scale(.02894,-.30717)" x="-14" dy=".35em">30.00</text>
<text class="t" transform="translate(0,40) scale(.02894,-.30717)" x="-14" dy=".35em">40.00</text>
<text class="t" transform="translate(0,50) scale(.02894,-.30717)" x="-14" dy=".35em">50.00</text>
<text class="t" transform="translate(0,60) scale(.02894,-.30717)" x="-14" dy=".35em">60.00</text>
<text class="t" transform="translate(0,70) scale(.02894,-.30717)" x="-14" dy=".35em">70.00</text>
<text class="t" transform="translate(0,80) scale(.02894,-.30717)" x="-14" dy=".35em">80.00</text>
<text class="t" transform="translate(0,90) scale(.02894,-.30717)" x="-14" dy=".35em">90.00</text>
<text class="c" transform="translate(.5,0) scale(.02894,-.30717) translate(0,12) rotate(-90)" dy=".35em">VA3</text>
<text class="c" transform="translate(1.5,0) scale(.02894,-.30717) translate(0,12) rotate(-90)" dy=".35em">VA14</text>
<text class="c" transform="translate(2.5,0) scale(.02894,-.30717) translate(0,12) rotate(-90)" dy=".35em">NS</text>
<text class="c" transform="translate(3.5,0) scale(.02894,-.30717) translate(0,12) rotate(-90)" dy=".35em">50</text>
<text class="c" transform="translate(4.5,0) scale(.02894,-.30717) translate(0,12) rotate(-90)" dy=".35em">100</text>
<text class="c" transform="translate(5.5,0) scale(.02894,-.30717) translate(0,12) rotate(-90)" dy=".35em">VA14</text>
<text class="c" transform="translate(6.5,0) scale(.02894,-.30717) translate(0,12) rotate(-90)" dy=".35em">VA3</text>
<text class="c" transform="translate(7.5,0) scale(.02894,-.30717) translate(0,12) rotate(-90)" dy=".35em">VA14</text>
<text class="c" transform="translate(8.5,0) scale(.02894,-.30717) translate(0,12) rotate(-90)" dy=".35em">VA3</text>
<text class="c" transform="translate(9.5,0) scale(.02894,-.30717) translate(0,12) rotate(-90)" dy=".35em">VA14</text>
<text class="c" transform="translate(10.5,0) scale(.02894,-.30717) translate(0,12) rotate(-90)" dy=".35em">VA3</text>
<text class="gl" transform="translate(1,0) scale(.02894,-.30717)" y="78" dy=".35em">Variety</text>
<text class="gl" transform="translate(3.5,0) scale(.02894,-.30717)" y="78" dy=".35em">Treatment</text>
<text class="gl" transform="translate(6,0) scale(.02894,-.30717)" y="78" dy=".35em">NS</text>
<text class="gl" transform="translate(8,0) scale(.02894,-.30717)" y="78" dy=".35em">50</text>
<text class="gl" transform="translate(10,0) scale(.02894,-.30717)" y="78" dy=".35em">100</text>
</g></g>
</svg>
</body></html>
